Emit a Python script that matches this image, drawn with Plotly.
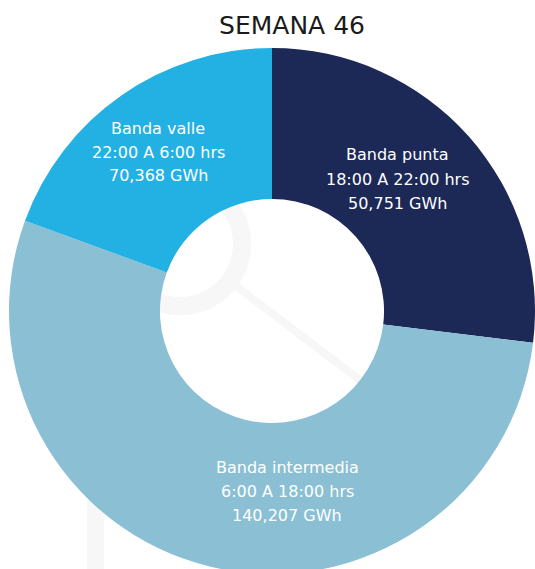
import plotly.graph_objects as go

# datos de la semana 46
bandas = ["Banda punta", "Banda intermedia", "Banda valle"]
horarios = ["18:00 A 22:00 hrs", "6:00 A 18:00 hrs", "22:00 A 6:00 hrs"]
# valores impresos en cada etiqueta
gwh_texto = ["50,751", "140,207", "70,368"]
# tamaño de los arcos tal como se ven en la imagen (los de punta y valle van cruzados)
gwh_arco = [70368, 140207, 50751]
colores = ["#1C2855", "#8ABFD4", "#23B1E4"]

W, H = 535, 580
FUENTE = "DejaVu Sans"
GRIS = "#F7F7F7"

# centro (px) de cada etiqueta, en el mismo orden que bandas
pos_etiquetas = [(397, 179), (287, 491), (158, 152)]
INTERLINEA = 24

fig = go.Figure()

fig.add_trace(go.Pie(
    labels=bandas,
    values=gwh_arco,
    textinfo="none",
    hoverinfo="label+value",
    sort=False,
    direction="clockwise",
    rotation=0,
    hole=0.426,
    marker=dict(colors=colores, line=dict(width=0)),
    domain=dict(x=[9 / W, 1], y=[1 - 574 / H, 1 - 48 / H]),
    showlegend=False,
))

# etiquetas de cada banda, una anotación por línea
for b, h, g, (cx, cy) in zip(bandas, horarios, gwh_texto, pos_etiquetas):
    for i, linea in enumerate([b, h, g + " GWh"]):
        fig.add_annotation(
            text=linea, showarrow=False,
            xref="paper", yref="paper",
            x=cx / W, y=1 - (cy + (i - 1) * INTERLINEA) / H,
            xanchor="center", yanchor="middle",
            font=dict(family=FUENTE, size=16, color="white"),
        )

# marca de agua (lupa gris muy tenue)
fig.add_shape(type="circle", xref="paper", yref="paper", layer="below",
              x0=(180 - 62) / W, x1=(180 + 62) / W,
              y0=1 - (244 + 62) / H, y1=1 - (244 - 62) / H,
              line=dict(color=GRIS, width=18))
fig.add_shape(type="line", xref="paper", yref="paper", layer="below",
              x0=232 / W, y0=1 - 283 / H, x1=364 / W, y1=1 - 383 / H,
              line=dict(color=GRIS, width=8))
fig.add_shape(type="rect", xref="paper", yref="paper", layer="below",
              x0=87 / W, x1=104 / W, y0=0, y1=1 - 497 / H,
              line=dict(width=0), fillcolor=GRIS)

fig.update_layout(
    title=dict(text="SEMANA 46", x=292 / W, xanchor="center",
               y=1 - 25 / H, yanchor="middle",
               font=dict(family=FUENTE, size=25, color="#1A1A1A")),
    width=W,
    height=H,
    margin=dict(l=0, r=0, t=0, b=0),
    paper_bgcolor="white",
    plot_bgcolor="white",
)

# quitar el margen del body para que la figura empiece en la esquina
fig.write_html("out.html", config={"displayModeBar": False}, post_script=[
    "document.body.style.margin='0';document.body.style.overflow='hidden';"
])
